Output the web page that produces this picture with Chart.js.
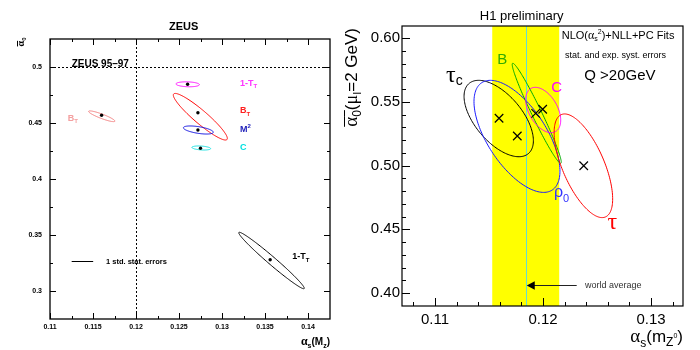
<!DOCTYPE html>
<html>
<head>
<meta charset="utf-8">
<script src="https://cdn.jsdelivr.net/npm/chart.js@4.4.1/dist/chart.umd.min.js"></script>
<style>
  html, body { margin: 0; padding: 0; background: #fff; }
  #wrap { position: relative; width: 700px; height: 350px; }
  canvas { position: absolute; top: 0; }
  #zeus { left: 0; }
  #h1 { left: 330px; }
</style>
</head>
<body>
<div id="wrap">
  <canvas id="zeus" width="350" height="350"></canvas>
  <canvas id="h1" width="370" height="350"></canvas>
</div>
<script>
// ---- left panel: ZEUS fits (alpha_s, alpha_0) with 1 std. stat. ellipses
const zeusVars   = ['1-T_T', 'B_T', 'M^2', 'C', 'B_T 95-97', '1-T_T 95-97'];
const zeusAs     = [0.1260, 0.1272, 0.1272, 0.1275, 0.1160, 0.1356];
const zeusA0     = [0.4846, 0.4592, 0.4438, 0.4274, 0.4569, 0.3279];
const zeusEllAs  = [0.12601, 0.12748, 0.12725, 0.12759, 0.11602, 0.13576];
const zeusEllA0  = [0.48455, 0.4556, 0.44375, 0.42768, 0.4560, 0.32723];
const zeusSigAs  = [0.00136, 0.00314, 0.00174, 0.00109, 0.00153, 0.00381];
const zeusSigA0  = [0.0022, 0.0208, 0.0036, 0.0018, 0.0048, 0.0252];
const zeusRho    = [-0.15, -0.93, -0.55, -0.3, -0.9, -0.983];
const zeusColors = ['#ff00ff', '#ff0000', '#0000dd', '#00dddd', '#f07878', '#000000'];
const zeusRefAs = 0.12, zeusRefA0 = 0.5; // dashed ZEUS 95-97 reference lines

const zeusXTicks = [0.11, 0.115, 0.12, 0.125, 0.13, 0.135, 0.14];
const zeusXMinor = [0.1125, 0.1175, 0.1225, 0.1275, 0.1325, 0.1375];
const zeusYTicks = [0.3, 0.35, 0.4, 0.45, 0.5];
const zeusYMinor = [0.325, 0.375, 0.425, 0.475];

// ---- right panel: H1 preliminary NLO+NLL+PC fits
const h1Vars   = ['tau_c', 'rho_0', 'B', 'C', 'tau'];
const h1As     = [0.11593, 0.11762, 0.11932, 0.11997, 0.12377];
const h1A0     = [0.5372, 0.5233, 0.5411, 0.5443, 0.4999];
const h1EllAs  = [0.1159, 0.11759, 0.11942, 0.12002, 0.12374];
const h1EllA0  = [0.5370, 0.5230, 0.5411, 0.5437, 0.4999];
const h1SigAs  = [0.00321, 0.00398, 0.00227, 0.00162, 0.00271];
const h1SigA0  = [0.0300, 0.0440, 0.0393, 0.0178, 0.0407];
const h1Rho    = [-0.58, -0.62, -0.975, -0.45, -0.64];
const h1Colors = ['#000000', '#1a1aff', '#00aa00', '#ff00ff', '#ff0000'];
const worldAvg = 0.1184, worldAvgErr = 0.0031;

const h1XTicks = [0.11, 0.12, 0.13];
const h1XMinor = [0.108, 0.112, 0.114, 0.116, 0.118, 0.122, 0.124, 0.126, 0.128, 0.132];
const h1YTicks = [0.40, 0.45, 0.50, 0.55, 0.60];
const h1YMinor = [0.41, 0.42, 0.43, 0.44, 0.46, 0.47, 0.48, 0.49, 0.51, 0.52, 0.53, 0.54, 0.56, 0.57, 0.58, 0.59];

const SANS = "'Liberation Sans', Arial, sans-serif";
const SERIF = "'Liberation Serif', 'Times New Roman', serif";

// text made of pieces (sub/superscripts, overline)
function drawRich(ctx, segs, x, y, align, color) {
  let w = 0;
  segs.forEach(s => { ctx.font = s.font; s.w = ctx.measureText(s.t).width; w += s.w; });
  let cx = align === 'right' ? x - w : align === 'center' ? x - w / 2 : x;
  ctx.textAlign = 'left'; ctx.textBaseline = 'alphabetic';
  segs.forEach(s => {
    ctx.font = s.font;
    ctx.fillStyle = s.color || color || '#000';
    ctx.fillText(s.t, cx, y + (s.dy || 0));
    if (s.bar) ctx.fillRect(cx, y - s.bar, s.w, 1);
    cx += s.w;
  });
}
function drawRichRot(ctx, segs, x, y, align, color) {
  ctx.save(); ctx.translate(x, y); ctx.rotate(-Math.PI / 2);
  drawRich(ctx, segs, 0, 0, align, color);
  ctx.restore();
}

function strokeEllipse(chart, cx, cy, sx, sy, rho, color, lw) {
  const { ctx, scales: { x, y } } = chart;
  const k = Math.sqrt(1 - rho * rho);
  ctx.beginPath();
  for (let i = 0; i <= 160; i++) {
    const t = i / 160 * 2 * Math.PI;
    const px = x.getPixelForValue(cx + sx * Math.cos(t));
    const py = y.getPixelForValue(cy + sy * (rho * Math.cos(t) + k * Math.sin(t)));
    if (i) ctx.lineTo(px, py); else ctx.moveTo(px, py);
  }
  ctx.closePath();
  ctx.strokeStyle = color; ctx.lineWidth = lw; ctx.stroke();
}

function drawFrame(chart, t) {
  const { ctx, chartArea: a, scales: { x, y } } = chart;
  const snap = v => Math.round(v) + 0.5;
  ctx.save();
  ctx.strokeStyle = '#000'; ctx.lineWidth = 1;
  ctx.beginPath();
  const xt = (v, len) => {
    const p = snap(x.getPixelForValue(v));
    ctx.moveTo(p, a.bottom); ctx.lineTo(p, a.bottom - len);
    if (t.mirror) { ctx.moveTo(p, a.top); ctx.lineTo(p, a.top + len); }
  };
  const yt = (v, len) => {
    const p = snap(y.getPixelForValue(v));
    ctx.moveTo(a.left, p); ctx.lineTo(a.left + len, p);
    if (t.mirror) { ctx.moveTo(a.right, p); ctx.lineTo(a.right - len, p); }
  };
  t.xMajor.forEach(v => xt(v, t.major)); t.xMinor.forEach(v => xt(v, t.minor));
  t.yMajor.forEach(v => yt(v, t.major)); t.yMinor.forEach(v => yt(v, t.minor));
  ctx.stroke();
  ctx.lineWidth = t.lw;
  ctx.strokeRect(a.left, a.top, a.right - a.left, a.bottom - a.top);
  ctx.restore();
}

function axis(min, max, ticks, size, fit, tickFont, pad, fmt) {
  return {
    type: 'linear', min, max,
    grid: { display: false, drawTicks: false },
    border: { display: false },
    afterBuildTicks: s => { s.ticks = ticks.map(v => ({ value: v })); },
    afterFit: s => { s[fit] = size; },
    ticks: { font: tickFont, color: '#000', padding: pad, maxRotation: 0, autoSkip: false, callback: fmt }
  };
}

// ---------------- ZEUS chart
const zeusDecor = {
  id: 'zeusDecor',
  beforeDatasetsDraw(chart) {
    const { ctx, chartArea: a, scales: { x, y } } = chart;
    ctx.save();
    ctx.setLineDash([2, 2]); ctx.strokeStyle = '#000'; ctx.lineWidth = 1;
    ctx.beginPath();
    const py = Math.round(y.getPixelForValue(zeusRefA0)) + 0.5;
    const px = Math.round(x.getPixelForValue(zeusRefAs)) + 0.5;
    ctx.moveTo(a.left, py); ctx.lineTo(a.right, py);
    ctx.moveTo(px, a.top); ctx.lineTo(px, a.bottom);
    ctx.stroke();
    ctx.setLineDash([]);
    zeusVars.forEach((n, i) => strokeEllipse(chart, zeusEllAs[i], zeusEllA0[i], zeusSigAs[i], zeusSigA0[i], zeusRho[i], zeusColors[i], 1));
    ctx.restore();
  },
  afterDraw(chart) {
    const { ctx, chartArea: a, scales: { x, y } } = chart;
    drawFrame(chart, { xMajor: zeusXTicks, xMinor: zeusXMinor, yMajor: zeusYTicks, yMinor: zeusYMinor, major: 6, minor: 3, mirror: true, lw: 1.3 });
    ctx.save();
    const B = s => `bold ${s}px ${SANS}`;
    drawRich(ctx, [{ t: 'ZEUS', font: B(11) }], 183.7, 29.5, 'center');
    drawRich(ctx, [{ t: 'ZEUS 95\u201397', font: B(10) }], x.getPixelForValue(0.11252), y.getPixelForValue(0.5003), 'left');
    const lab = [
      [[{ t: '1-T', font: B(9) }, { t: 'T', font: B(6), dy: 2.5 }], 0.13209, 0.48304, '#ff33ff'],
      [[{ t: 'B', font: B(9) }, { t: 'T', font: B(6), dy: 2.5 }], 0.13209, 0.45866, '#ff2020'],
      [[{ t: 'M', font: B(9) }, { t: '2', font: B(6), dy: -3.5 }], 0.13209, 0.44223, '#2222bb'],
      [[{ t: 'C', font: B(9) }], 0.13209, 0.42616, '#00e0e0'],
      [[{ t: 'B', font: B(9) }, { t: 'T', font: B(6), dy: 2.5 }], 0.11206, 0.45205, '#f4a0a0'],
      [[{ t: '1-T', font: B(9) }, { t: 'T', font: B(6), dy: 2.5 }], 0.13817, 0.32831, '#000000']
    ];
    lab.forEach(([segs, lx, ly, c]) => drawRich(ctx, segs, x.getPixelForValue(lx), y.getPixelForValue(ly), 'left', c));
    // legend line
    const ly = Math.round(y.getPixelForValue(0.32679)) + 0.5;
    ctx.strokeStyle = '#000'; ctx.lineWidth = 1;
    ctx.beginPath(); ctx.moveTo(x.getPixelForValue(0.11252), ly); ctx.lineTo(x.getPixelForValue(0.11502), ly); ctx.stroke();
    ctx.font = B(7.5); ctx.fillStyle = '#000'; ctx.textBaseline = 'middle'; ctx.textAlign = 'left';
    ctx.fillText('1 std. stat. errors', x.getPixelForValue(0.11651), ly);
    // axis titles
    drawRich(ctx, [
      { t: '\u03b1', font: `bold 12px ${SERIF}` }, { t: 's', font: B(7), dy: 2.5 },
      { t: '(M', font: B(10) }, { t: 'z', font: B(7), dy: 2.5 }, { t: ')', font: B(10) }
    ], a.right, 345, 'right');
    drawRichRot(ctx, [{ t: '\u03b1', font: `bold 10px ${SERIF}`, bar: 7 }, { t: '0', font: B(6), dy: 2 }], 24, 37.5, 'right');
    ctx.restore();
  }
};

new Chart(document.getElementById('zeus'), {
  type: 'scatter',
  data: {
    datasets: [{
      data: zeusAs.map((v, i) => ({ x: v, y: zeusA0[i] })),
      pointRadius: 1.7, backgroundColor: '#000', borderColor: '#000', borderWidth: 0
    }]
  },
  options: {
    responsive: false, animation: false, events: [],
    layout: { padding: { left: 0, right: 20, top: 39, bottom: 0 } },
    plugins: { legend: { display: false }, tooltip: { enabled: false } },
    scales: {
      x: axis(0.11, 0.142558, zeusXTicks, 31, 'height', { family: SANS, size: 7, weight: 'bold' }, 4, v => String(v)),
      y: axis(0.275, 0.525, zeusYTicks, 50, 'width', { family: SANS, size: 7, weight: 'bold' }, 8, v => String(v))
    }
  },
  plugins: [zeusDecor]
});

// ---------------- H1 chart
const h1Decor = {
  id: 'h1Decor',
  beforeDatasetsDraw(chart) {
    const { ctx, chartArea: a, scales: { x } } = chart;
    ctx.save();
    const x0 = x.getPixelForValue(worldAvg - worldAvgErr), x1 = x.getPixelForValue(worldAvg + worldAvgErr);
    ctx.fillStyle = '#ffff00';
    ctx.fillRect(x0, a.top, x1 - x0, a.bottom - a.top);
    const xc = Math.round(x.getPixelForValue(worldAvg)) + 0.5;
    ctx.strokeStyle = '#66dcd0'; ctx.lineWidth = 1;
    ctx.beginPath(); ctx.moveTo(xc, a.top); ctx.lineTo(xc, a.bottom); ctx.stroke();
    h1Vars.forEach((n, i) => strokeEllipse(chart, h1EllAs[i], h1EllA0[i], h1SigAs[i], h1SigA0[i], h1Rho[i], h1Colors[i], 1));
    ctx.restore();
  },
  afterDraw(chart) {
    const { ctx, chartArea: a, scales: { x, y } } = chart;
    drawFrame(chart, { xMajor: h1XTicks, xMinor: h1XMinor, yMajor: h1YTicks, yMinor: h1YMinor, major: 8, minor: 4, mirror: false, lw: 1.2 });
    ctx.save();
    // world average arrow
    const ay = Math.round(y.getPixelForValue(0.4063)) + 0.5;
    const tip = x.getPixelForValue(worldAvg) + 1, tail = x.getPixelForValue(0.12312);
    ctx.strokeStyle = '#222'; ctx.lineWidth = 1;
    ctx.beginPath(); ctx.moveTo(tip + 6, ay); ctx.lineTo(tail, ay); ctx.stroke();
    ctx.fillStyle = '#000';
    ctx.beginPath(); ctx.moveTo(tip, ay); ctx.lineTo(tip + 8, ay - 4.3); ctx.lineTo(tip + 8, ay + 4.3); ctx.closePath(); ctx.fill();
    ctx.font = `9px ${SANS}`; ctx.fillStyle = '#333'; ctx.textAlign = 'left'; ctx.textBaseline = 'middle';
    ctx.fillText('world average', x.getPixelForValue(0.12389), ay);

    const S = s => `${s}px ${SANS}`;
    drawRich(ctx, [{ t: 'H1 preliminary', font: S(13) }], 191.7, 20, 'center');
    drawRich(ctx, [
      { t: 'NLO(', font: S(11) }, { t: '\u03b1', font: `12px ${SERIF}` },
      { t: 's', font: S(7), dy: 2.5 }, { t: '2', font: S(7), dy: -5 },
      { t: ')+NLL+PC Fits', font: S(11) }
    ], x.getPixelForValue(0.12173), y.getPixelForValue(0.59984), 'left');
    drawRich(ctx, [{ t: 'stat. and exp. syst. errors', font: S(9) }], x.getPixelForValue(0.12204), y.getPixelForValue(0.58492), 'left');
    drawRich(ctx, [{ t: 'Q >20GeV', font: S(15) }], x.getPixelForValue(0.12382), y.getPixelForValue(0.56726), 'left');

    const lab = [
      [[{ t: '\u03c4', font: `24px ${SERIF}` }, { t: 'c', font: S(14), dy: 3.5 }], 0.11102, 0.5660, 'left', h1Colors[0]],
      [[{ t: '\u03c1', font: S(16) }, { t: '0', font: S(11), dy: 5 }], 0.12102, 0.47538, 'left', '#3333ff'],
      [[{ t: 'B', font: S(15) }], 0.11623, 0.57943, 'center', '#33aa00'],
      [[{ t: 'C', font: S(15) }], 0.12127, 0.55783, 'center', '#ff00ff'],
      [[{ t: '\u03c4', font: `24px ${SERIF}` }], 0.12597, 0.45026, 'left', '#ff0000']
    ];
    lab.forEach(([segs, lx, ly, al, c]) => drawRich(ctx, segs, x.getPixelForValue(lx), y.getPixelForValue(ly), al, c));

    // axis titles
    drawRich(ctx, [
      { t: '\u03b1', font: `19px ${SERIF}` }, { t: 's', font: S(12), dy: 4.5 },
      { t: '(m', font: S(17) }, { t: 'Z', font: S(12), dy: 4 }, { t: '0', font: S(7), dy: -4 },
      { t: ')', font: S(17) }
    ], a.right, 342, 'right');
    drawRichRot(ctx, [
      { t: '\u03b1', font: `19px ${SERIF}`, bar: 13 }, { t: '0', font: S(12), dy: 4, bar: 13 },
      { t: '(', font: S(17) }, { t: '\u03bc', font: `18px ${SERIF}` }, { t: 'I', font: S(11), dy: 4 },
      { t: '=2 GeV)', font: S(17) }
    ], 27, 28, 'right');
    ctx.restore();
  }
};

new Chart(document.getElementById('h1'), {
  type: 'scatter',
  data: {
    datasets: [{
      data: h1As.map((v, i) => ({ x: v, y: h1A0[i] })),
      pointStyle: 'crossRot', pointRadius: 6, borderColor: '#000', borderWidth: 1.2, backgroundColor: '#000'
    }]
  },
  options: {
    responsive: false, animation: false, events: [],
    layout: { padding: { left: 0, right: 17, top: 26, bottom: 0 } },
    plugins: { legend: { display: false }, tooltip: { enabled: false } },
    scales: {
      x: axis(0.106944, 0.132963, h1XTicks, 44, 'height', { family: SANS, size: 15 }, 5, v => v.toFixed(2)),
      y: axis(0.38979, 0.60966, h1YTicks, 72, 'width', { family: SANS, size: 15 }, 2, v => v.toFixed(2))
    }
  },
  plugins: [h1Decor]
});
</script>
</body>
</html>
